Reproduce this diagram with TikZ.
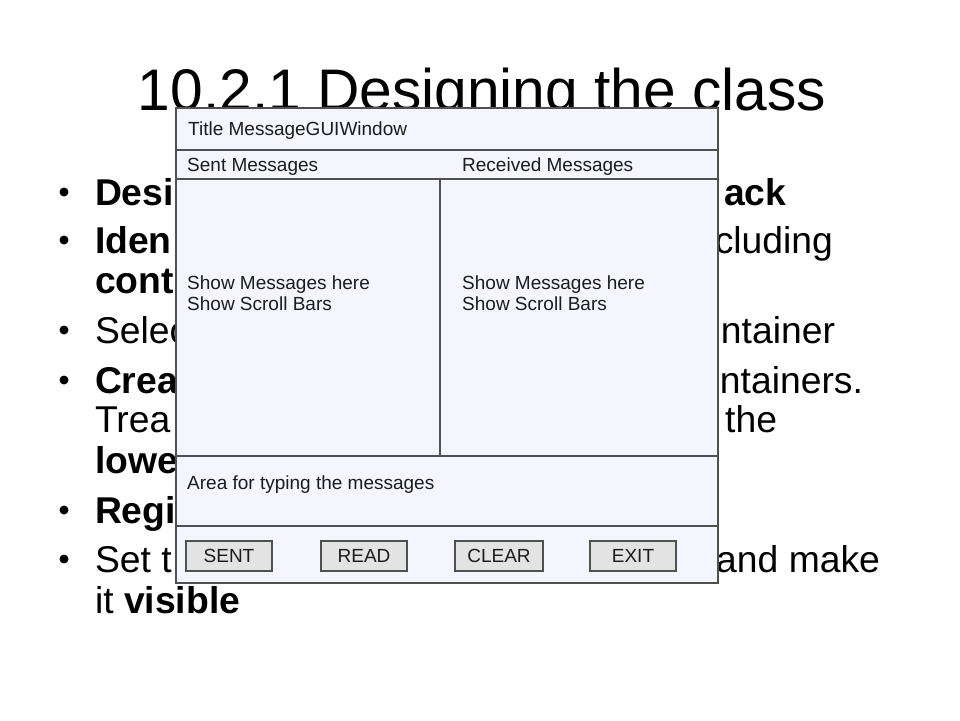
\documentclass[tikz,border=0pt]{standalone}
\usepackage{fontspec}
\setmainfont{Liberation Sans}
\definecolor{winfill}{HTML}{F4F5FD}
\definecolor{winline}{HTML}{505050}
\definecolor{btnfill}{HTML}{E3E3E3}
\definecolor{wintext}{HTML}{1C1C1C}
\begin{document}
\begin{tikzpicture}[x=1pt,y=-1pt,
  txt/.style={inner sep=0pt,outer sep=0pt,font=\fontsize{37.3}{40}\selectfont},
  lw/.style={txt,anchor=base west},
  le/.style={txt,anchor=base east},
  bul/.style={circle,fill=black,inner sep=0pt,minimum size=9pt},
  win/.style={draw=winline,line width=1.4pt,fill=winfill},
  wline/.style={draw=winline,line width=1.4pt},
  wt/.style={inner sep=0pt,anchor=base west,text=wintext,font=\fontsize{19}{21}\selectfont},
  btn/.style={draw=winline,line width=1.3pt,fill=btnfill,minimum width=86pt,minimum height=30pt,inner sep=0pt,text=wintext,font=\fontsize{19}{21}\selectfont}]
\useasboundingbox[fill=white] (0,0) rectangle (960,720);
% title
\node[inner sep=0pt,anchor=base,font=\fontsize{58.67}{64}\selectfont] (title) at (482,110) {10.2.1 Designing the class};
% bullets
\foreach \y/\n in {205/b1,253/b2,343/b3,393/b4,523/b5,572/b6}
  \node[bul] (\n) at (64,\y-13) {};
% left fragments
\node[lw] (l1) at (95,205) {\bfseries Desi};
\node[lw] (l2) at (95,253) {\bfseries Iden};
\node[lw] (l3) at (95,293) {\bfseries cont};
\node[lw] (l4) at (95,343) {Selec};
\node[lw] (l5) at (95,393) {\bfseries Crea};
\node[lw] (l6) at (95,432) {Trea};
\node[lw] (l7) at (95,473) {\bfseries lowe};
\node[lw] (l8) at (95,523) {\bfseries Regi};
\node[lw] (l9) at (95,572) {Set t};
\node[lw] (l10) at (95,613) {it \bfseries visible};
% right fragments
\node[lw] (r1) at (724,205) {\bfseries ack};
\node[le] (r2) at (833,253) {cluding};
\node[le] (r3) at (835,343) {ntainer};
\node[le] (r4) at (863,393) {ontainers.};
\node[le] (r5) at (777,432) {the};
\node[le] (r6) at (880,572) {and make};
% window
\path[win] (176,108) rectangle (718,583);
\coordinate (tl1) at (176,150); \coordinate (tr1) at (718,150);
\coordinate (tl2) at (176,179); \coordinate (tr2) at (718,179);
\coordinate (tl3) at (176,456); \coordinate (tr3) at (718,456);
\coordinate (tl4) at (176,526); \coordinate (tr4) at (718,526);
\coordinate (dv1) at (440,179); \coordinate (dv2) at (440,456);
\draw[wline] (tl1) -- (tr1);
\draw[wline] (tl2) -- (tr2);
\draw[wline] (tl3) -- (tr3);
\draw[wline] (tl4) -- (tr4);
\draw[wline] (dv1) -- (dv2);
\node[wt] (wtitle) at (188,135) {Title MessageGUIWindow};
\node[wt] (sent) at (187,171) {Sent Messages};
\node[wt] (recv) at (462,171) {Received Messages};
\node[wt] (ls1) at (187,289) {Show Messages here};
\node[wt] (ls2) at (187,310) {Show Scroll Bars};
\node[wt] (rs1) at (462,289) {Show Messages here};
\node[wt] (rs2) at (462,310) {Show Scroll Bars};
\node[wt] (area) at (187,489) {Area for typing the messages};
\node[btn] (bsent) at (229,556) {SENT};
\node[btn] (bread) at (364,556) {READ};
\node[btn,minimum width=88pt] (bclear) at (499,556) {CLEAR};
\node[btn] (bexit) at (633,556) {EXIT};
\end{tikzpicture}
\end{document}
